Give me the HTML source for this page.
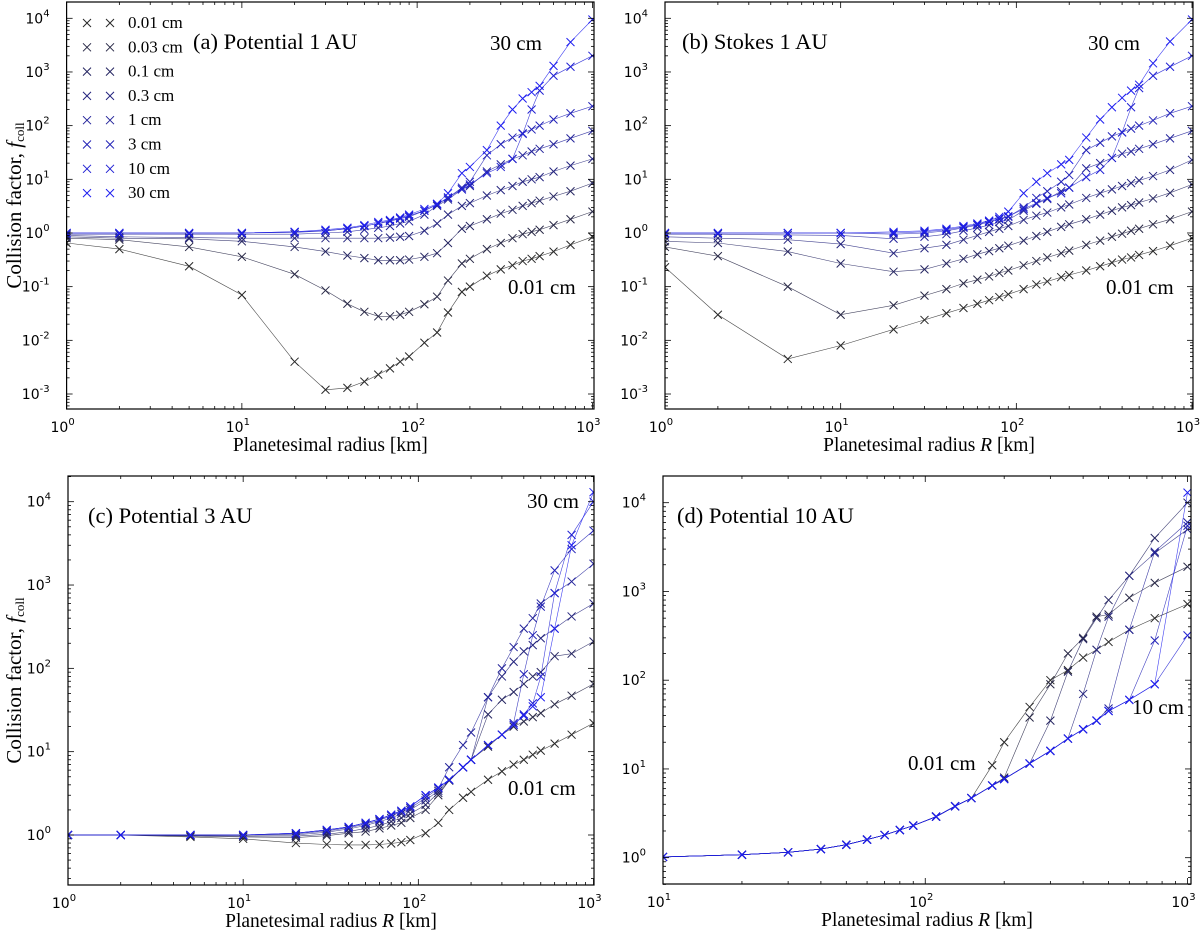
<!DOCTYPE html>
<html><head><meta charset="utf-8">
<style>
html,body{margin:0;padding:0;background:#fff;}
svg{display:block;}
.tk{font-family:"DejaVu Sans","Liberation Sans",sans-serif;font-size:14px;fill:#000;}
.sr{font-family:"Liberation Serif","DejaVu Serif",serif;fill:#000;}
</style></head>
<body>
<svg id="fig" width="1200" height="931" viewBox="0 0 1200 931" xmlns="http://www.w3.org/2000/svg"></svg>
<script>
// ---------- data ----------
const sizeLabels = ["0.01 cm","0.03 cm","0.1 cm","0.3 cm","1 cm","3 cm","10 cm","30 cm"];
const radiiABC = [1,2,5,10,20,30,40,50,60,70,80,90,110,130,150,180,200,250,300,350,400,450,500,600,750,1000];
const radiiD = [10,20,30,40,50,60,70,80,90,110,130,150,180,200,250,300,350,400,450,500,600,750,1000];

const panelA_001 = [0.65,0.5,0.24,0.07,0.004,0.0012,0.0013,0.0017,0.0023,0.003,0.004,0.005,0.009,0.014,0.033,0.08,0.1,0.16,0.21,0.25,0.3,0.33,0.37,0.45,0.6,0.85];
const panelA_003 = [0.8,0.75,0.55,0.36,0.17,0.085,0.048,0.034,0.028,0.028,0.03,0.034,0.047,0.065,0.13,0.27,0.33,0.5,0.65,0.8,0.95,1.05,1.15,1.4,1.8,2.5];
const panelA_01 = [0.85,0.8,0.78,0.7,0.55,0.45,0.38,0.34,0.31,0.31,0.31,0.32,0.36,0.42,0.65,1.2,1.35,1.8,2.3,2.7,3.2,3.6,4,4.8,6,8.5];
const panelA_03 = [0.9,0.85,0.82,0.8,0.8,0.8,0.8,0.8,0.8,0.82,0.85,0.88,1.1,1.5,2.2,3.2,3.6,5,6.3,7.5,9,10,11,14,18,24];
const panelA_1 = [0.95,0.95,0.95,0.95,0.95,1.0,1.05,1.15,1.25,1.35,1.5,1.65,2.2,3.2,4.2,6.5,7.5,14,19,24,28,33,37,45,58,80];
const panelA_3 = [1,1,1,1,1.02,1.1,1.2,1.35,1.5,1.65,1.85,2.0,2.6,3.4,4.5,7,9,28,45,60,72,85,100,130,170,230];
const panelA_10 = [1,1,1,1,1.05,1.1,1.2,1.35,1.5,1.7,1.9,2.1,2.6,3.4,4.6,6.5,8,13,17,24,70,200,450,850,1250,2000];
const panelA_30 = [1,1,1,1,1.05,1.15,1.25,1.4,1.6,1.75,1.95,2.2,2.8,3.5,5.5,13,17,35,100,200,320,420,550,1300,3600,9500];

const panelB_001 = [0.23,0.03,0.0045,0.008,0.016,0.024,0.032,0.04,0.048,0.056,0.064,0.072,0.09,0.11,0.125,0.15,0.165,0.2,0.24,0.28,0.32,0.35,0.39,0.46,0.58,0.8];
const panelB_003 = [0.55,0.37,0.1,0.03,0.045,0.068,0.09,0.115,0.135,0.155,0.18,0.2,0.25,0.3,0.35,0.42,0.47,0.6,0.72,0.85,0.97,1.1,1.2,1.45,1.8,2.5];
const panelB_01 = [0.7,0.65,0.45,0.27,0.19,0.21,0.27,0.33,0.4,0.46,0.52,0.58,0.72,0.88,1.05,1.3,1.45,1.8,2.2,2.6,3.0,3.3,3.7,4.4,5.6,8];
const panelB_03 = [0.85,0.8,0.75,0.62,0.42,0.52,0.6,0.75,0.9,1.05,1.2,1.35,1.75,2.1,2.4,3,3.4,4.5,5.5,6.5,7.5,8.5,9.5,11.5,15,23];
const panelB_1 = [0.95,0.95,0.92,0.9,0.78,0.85,0.95,1.1,1.25,1.4,1.6,1.75,2.6,3.5,4.3,6,7,16,20,25,30,33,37,45,58,80];
const panelB_3 = [1,1,1,1,0.95,1.0,1.1,1.25,1.4,1.6,1.8,2.0,3,4.5,6,9,12,35,48,63,75,88,100,125,170,230];
const panelB_10 = [1,1,1,1,1.0,1.05,1.15,1.3,1.45,1.65,1.85,2.05,2.8,3.6,4.5,5.5,7,11,15,25,75,220,500,850,1250,2000];
const panelB_30 = [1,1,1,1,1.05,1.1,1.2,1.35,1.5,1.7,2.0,2.5,5.5,9,13,19,23,60,130,220,330,450,580,1450,3700,9500];

const panelC_001 = [1,1,0.95,0.9,0.8,0.77,0.76,0.76,0.77,0.79,0.82,0.87,1.05,1.4,2,2.8,3.3,4.6,5.8,7,8,9.2,10.3,12.5,16,22];
const panelC_003 = [1,1,0.97,0.95,0.93,0.98,1.05,1.1,1.2,1.3,1.4,1.6,2.0,3.0,4.5,6.5,8,11.5,16,20,23,26,29,37,47,65];
const panelC_01 = [1,1,0.98,0.97,0.97,1.02,1.1,1.2,1.3,1.45,1.6,1.8,2.3,3.2,4.5,6.5,8,28,42,52,65,80,90,140,150,210];
const panelC_03 = [1,1,1,1,1.0,1.08,1.18,1.3,1.45,1.6,1.8,2.0,2.6,3.4,4.6,6.5,8,45,80,120,160,190,230,300,420,600];
const panelC_1 = [1,1,1,1,1.03,1.12,1.22,1.35,1.5,1.7,1.9,2.1,2.8,3.6,6.5,12,17,45,100,180,300,400,600,800,1100,1800];
const panelC_3 = [1,1,1,1,1.05,1.15,1.25,1.4,1.55,1.75,1.95,2.2,3,3.7,4.6,6.5,8,12,16,22,85,250,550,1500,2700,4500];
const panelC_10 = [1,1,1,1,1.05,1.15,1.25,1.4,1.55,1.75,1.95,2.2,3,3.7,4.6,6.5,8,12,16,21,28,38,80,800,4000,10000];
const panelC_30 = [1,1,1,1,1.05,1.15,1.25,1.4,1.55,1.75,1.95,2.2,3,3.7,4.6,6.5,8,12,16,21,27,35,45,300,3000,13000];

const panelD_001 = [1.02,1.08,1.15,1.25,1.4,1.6,1.8,2.05,2.3,2.9,3.8,4.7,11,20,50,100,130,180,220,270,370,500,720];
const panelD_003 = [1.02,1.08,1.15,1.25,1.4,1.6,1.8,2.05,2.3,2.9,3.8,4.7,6.5,8,38,90,200,300,520,550,850,1250,1900];
const panelD_01 = [1.02,1.08,1.15,1.25,1.4,1.6,1.8,2.05,2.3,2.9,3.8,4.7,6.5,7.7,11.5,35,125,290,500,800,1500,4000,10000];
const panelD_03 = [1.02,1.08,1.15,1.25,1.4,1.6,1.8,2.05,2.3,2.9,3.8,4.7,6.5,7.7,11.5,16,22,70,220,520,1500,2700,5000];
const panelD_1 = [1.02,1.08,1.15,1.25,1.4,1.6,1.8,2.05,2.3,2.9,3.8,4.7,6.5,7.7,11.5,16,22,28,35,48,370,2800,6000];
const panelD_3 = [1.02,1.08,1.15,1.25,1.4,1.6,1.8,2.05,2.3,2.9,3.8,4.7,6.5,7.7,11.5,16,22,28,35,45,60,280,5500];
const panelD_10 = [1.02,1.08,1.15,1.25,1.4,1.6,1.8,2.05,2.3,2.9,3.8,4.7,6.5,7.7,11.5,16,22,28,35,45,60,90,320];
const panelD_30 = [1.02,1.08,1.15,1.25,1.4,1.6,1.8,2.05,2.3,2.9,3.8,4.7,6.5,7.7,11.5,16,22,28,35,45,60,90,13000];

const xTicksABC = [0,1,2,3];
const xTicksD = [1,2,3];
const yTicksAB = [-3,-2,-1,0,1,2,3,4];
const yTicksCD = [0,1,2,3,4];

// ---------- drawing ----------
const NS = "http://www.w3.org/2000/svg";
const svg = document.getElementById("fig");
function mk(tag, attrs, parent){const e=document.createElementNS(NS,tag);for(const k in attrs)e.setAttribute(k,attrs[k]);(parent||svg).appendChild(e);return e;}
function color(i){const t=i/7;const r=Math.round(40*(1-t)+30*t),g=Math.round(40*(1-t)+30*t),b=Math.round(40*(1-t)+240*t);return `rgb(${r},${g},${b})`;}

const panels = [
 {id:"a",box:{l:66.6,r:594,t:2,b:409},xd0:0,xp0:66.6,xd1:3,xp1:592.4,yd0:4,yp0:18.3,yd1:-3,yp1:394,
  radii:radiiABC,series:[panelA_001,panelA_003,panelA_01,panelA_03,panelA_1,panelA_3,panelA_10,panelA_30],
  xt:xTicksABC,yt:yTicksAB,title:"(a) Potential 1 AU",tx:193,ty:49,xlab:"Planetesimal radius [km]",ylab:true,
  notes:[["30 cm",490,50],["0.01 cm",508,294]],legend:true},
 {id:"b",box:{l:665,r:1193,t:2,b:409},xd0:0,xp0:665,xd1:3,xp1:1192,yd0:4,yp0:18.3,yd1:-3,yp1:394,
  radii:radiiABC,series:[panelB_001,panelB_003,panelB_01,panelB_03,panelB_1,panelB_3,panelB_10,panelB_30],
  xt:xTicksABC,yt:yTicksAB,title:"(b) Stokes 1 AU",tx:682,ty:49,xlab:"R",ylab:false,
  notes:[["30 cm",1088,50],["0.01 cm",1106,294]]},
 {id:"c",box:{l:68,r:594,t:476,b:885},xd0:0,xp0:68,xd1:3,xp1:593.5,yd0:4,yp0:501.7,yd1:0,yp1:835,
  radii:radiiABC,series:[panelC_001,panelC_003,panelC_01,panelC_03,panelC_1,panelC_3,panelC_10,panelC_30],
  xt:xTicksABC,yt:yTicksCD,title:"(c) Potential 3 AU",tx:88,ty:523,xlab:"R",ylab:true,
  notes:[["30 cm",527,508],["0.01 cm",508,795]]},
 {id:"d",box:{l:663,r:1191,t:476,b:884},xd0:1,xp0:663,xd1:3,xp1:1187.5,yd0:4,yp0:502.7,yd1:0,yp1:857.7,
  radii:radiiD,series:[panelD_001,panelD_003,panelD_01,panelD_03,panelD_1,panelD_3,panelD_10,panelD_30],
  xt:xTicksD,yt:yTicksCD,title:"(d) Potential 10 AU",tx:677,ty:523,xlab:"R",ylab:false,
  notes:[["0.01 cm",908,770],["10 cm",1132,714]]}
];

panels.forEach(p=>{
  const X = v => p.xp0 + (Math.log10(v)-p.xd0)/(p.xd1-p.xd0)*(p.xp1-p.xp0);
  const Y = v => p.yp0 + (Math.log10(v)-p.yd0)/(p.yd1-p.yd0)*(p.yp1-p.yp0);
  const YD = d => p.yp0 + (d-p.yd0)/(p.yd1-p.yd0)*(p.yp1-p.yp0);
  const XD = d => p.xp0 + (d-p.xd0)/(p.xd1-p.xd0)*(p.xp1-p.xp0);
  const b = p.box;
  const g = mk("g",{});
  
  
  const cp = mk("clipPath",{id:"clip"+p.id},g);
  mk("rect",{x:b.l,y:b.t,width:b.r-b.l,height:b.b-b.t},cp);
  const plot = mk("g",{"clip-path":`url(#clip${p.id})`},g);
  
  
  p.series.forEach((vals,i)=>{
    const c = color(i);
    const sg = mk("g",{},plot);
    
    
    const pts = vals.map((v,j)=>`${X(p.radii[j]).toFixed(1)},${Y(v).toFixed(1)}`).join(" ");
    const ln = mk("polyline",{points:pts,fill:"none",stroke:c,"stroke-width":0.6,"stroke-opacity":0.85},sg);
    
    
    vals.forEach((v,j)=>{
      const x=X(p.radii[j]), y=Y(v), s=4;
      const m = mk("path",{d:`M${x-s},${y-s}L${x+s},${y+s}M${x-s},${y+s}L${x+s},${y-s}`,stroke:c,"stroke-width":1},sg);
      
      
    });
  });
  const fr = mk("rect",{x:b.l,y:b.t,width:b.r-b.l,height:b.b-b.t,fill:"none",stroke:"#000","stroke-width":1.2},g);
  
  
  const tk = mk("g",{stroke:"#000","stroke-width":0.8},g);
  
  
  for(let d=p.xd0-1; d<=p.xd1; d++){
    for(let m=1;m<=9;m++){
      const v=d+Math.log10(m); const x=XD(v);
      if(x<b.l-0.5||x>b.r+0.5) continue;
      const L = m===1?6:3;
      mk("line",{x1:x,y1:b.b,x2:x,y2:b.b-L},tk);
      mk("line",{x1:x,y1:b.t,x2:x,y2:b.t+L},tk);
    }
  }
  for(let d=Math.min(p.yd0,p.yd1)-1; d<=Math.max(p.yd0,p.yd1)+1; d++){
    for(let m=1;m<=9;m++){
      const v=d+Math.log10(m); const y=YD(v);
      if(y<b.t-0.5||y>b.b+0.5) continue;
      const L = m===1?6:3;
      mk("line",{x1:b.l,y1:y,x2:b.l+L,y2:y},tk);
      mk("line",{x1:b.r,y1:y,x2:b.r-L,y2:y},tk);
    }
  }
  p.xt.forEach(d=>{
    const t = mk("text",{x:XD(d)-4,y:b.b+23,"text-anchor":"middle",class:"tk"},g);
    
    
    t.textContent="10";
    const s = mk("tspan",{dy:-7,"font-size":10},t); s.textContent=String(d);
  });
  p.yt.forEach(d=>{
    const t = mk("text",{x:b.l-17,y:YD(d)+5,"text-anchor":"end",class:"tk"},g);
    
    
    t.textContent="10";
    const s = mk("tspan",{dy:-7,"font-size":10},t); s.textContent=String(d);
  });
  const cx=(b.l+b.r)/2;
  const xl = mk("text",{x:cx,y:b.b+42,"text-anchor":"middle",class:"sr","font-size":19.5},g);
  
  
  if(p.xlab==="R"){
    xl.appendChild(document.createTextNode("Planetesimal radius "));
    const it=mk("tspan",{"font-style":"italic"},xl); it.textContent="R";
    xl.appendChild(document.createTextNode(" [km]"));
  } else xl.textContent=p.xlab;
  if(p.ylab){
    const cy=(b.t+b.b)/2;
    const yl = mk("text",{x:0,y:0,transform:`translate(21,${cy}) rotate(-90)`,"text-anchor":"middle",class:"sr","font-size":21},g);
    
    
    yl.appendChild(document.createTextNode("Collision factor, "));
    const f=mk("tspan",{"font-style":"italic"},yl); f.textContent="f";
    const sb=mk("tspan",{dy:3,"font-size":13},yl); sb.textContent="coll";
  }
  const ti = mk("text",{x:p.tx,y:p.ty,class:"sr","font-size":22.5},g);
  
  
  ti.textContent=p.title;
  p.notes.forEach(n=>{
    const t = mk("text",{x:n[1],y:n[2],class:"sr","font-size":21},g);
    
    
    t.textContent=n[0];
  });
  if(p.legend){
    const lg = mk("g",{},g);
    
    
    sizeLabels.forEach((lab,i)=>{
      const y=23+i*24.3, c=color(i);
      const e = mk("g",{},lg);
      
      
      [87,110].forEach(x=>{
        const s=4;
        mk("path",{d:`M${x-s},${y-s}L${x+s},${y+s}M${x-s},${y+s}L${x+s},${y-s}`,stroke:c,"stroke-width":1},e);
      });
      const t = mk("text",{x:128,y:y+5,class:"sr","font-size":17},e);
      t.textContent=lab;
    });
  }
});
</script>
</body></html>
